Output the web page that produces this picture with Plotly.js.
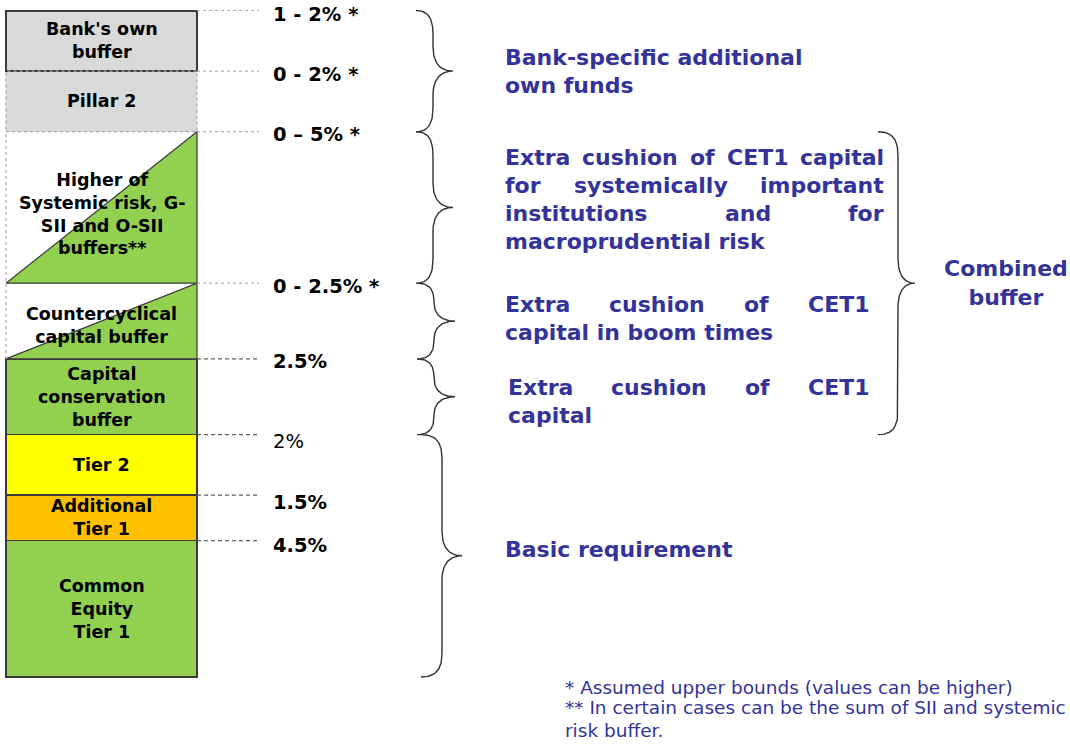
<!DOCTYPE html>
<html><head><meta charset="utf-8">
<script src="https://cdn.plot.ly/plotly-3.0.1.min.js"></script>
<style>html,body{margin:0;padding:0;background:#fff;overflow:hidden;}#chart{width:1070px;height:747px;}</style>
</head><body><div id="chart"></div>
<script>
// ---------------- DATA (column segments, bottom to top) ----------------
const segments = ["Common Equity Tier 1", "Additional Tier 1", "Tier 2", "Capital conservation buffer",
  "Countercyclical capital buffer", "Higher of Systemic risk, G-SII and O-SII buffers**", "Pillar 2", "Bank's own buffer"];
const segmentLabels = ["Common<br>Equity<br>Tier 1", "Additional<br>Tier 1", "Tier 2", "Capital<br>conservation<br>buffer",
  "Countercyclical<br>capital buffer", "Higher of<br>Systemic risk, G-<br>SII and O-SII<br>buffers**", "Pillar 2", "Bank's own<br>buffer"];
const segmentValues = [4.5, 1.5, 2, 2.5, 2.5, 5, 2, 2];
const rateLabels = ["4.5%", "1.5%", "2%", "2.5%", "0 - 2.5% *", "0 – 5% *", "0 - 2% *", "1 - 2% *"];

const descBankSpecific = ["Bank-specific additional", "own funds"];
const descSystemic = ["Extra cushion of CET1 capital", "for systemically important", "institutions and for", "macroprudential risk"];
const descCountercyclical = ["Extra cushion of CET1", "capital in boom times"];
const descConservation = ["Extra cushion of CET1", "capital"];
const descBasic = ["Basic requirement"];
const descCombined = ["Combined", "buffer"];
const footnotes = ["* Assumed upper bounds (values can be higher)",
  "** In certain cases can be the sum of SII and systemic", "risk buffer."];

// ---------------- STYLE ----------------
const segFill = ['#92d050', '#ffc000', '#ffff00', '#92d050', '#ffffff', '#ffffff', '#d9d9d9', '#d9d9d9'];
const segLineW = [1.5, 1.5, 1.5, 1.5, 0, 0, 0, 2];
const FONT = 'DejaVu Sans';
const BLUE = '#333399';
const colX = 101.5, colW = 191, colL = colX - colW / 2, colR = colX + colW / 2;

// cumulative bounds
const bottoms = [], tops = [];
let acc = 0;
segmentValues.forEach(v => { bottoms.push(acc); acc += v; tops.push(acc); });

const traces = [];
segmentValues.forEach((v, i) => {
  traces.push({
    type: 'bar', x: [colX], y: [v], width: [colW], name: segments[i],
    marker: { color: segFill[i], line: { color: '#3a3a3a', width: segLineW[i] } },
    hoverinfo: 'skip'
  });
});

// triangles inside white segments (4, 5)
[4, 5].forEach(i => {
  traces.push({
    type: 'scatter', mode: 'lines', fill: 'toself', fillcolor: '#92d050',
    x: [colL, colR, colR, colL], y: [bottoms[i], bottoms[i], tops[i], bottoms[i]],
    line: { color: '#3a3a3a', width: 1.2 }, hoverinfo: 'skip'
  });
});
// dotted outlines (Pillar 2 box and left edge of buffers)
traces.push({
  type: 'scatter', mode: 'lines',
  x: [colL, colR, colR, colL, colL, null, colL, colL],
  y: [bottoms[6], bottoms[6], tops[6], tops[6], bottoms[6], null, bottoms[4], tops[5]],
  line: { color: '#a8a8a8', width: 1.2, dash: 'dot' }, hoverinfo: 'skip'
});

// connector lines
const lightX = [], lightY = [], darkX = [], darkY = [];
tops.forEach((t, i) => {
  if (i >= 4) { lightX.push(colR, 259, null); lightY.push(t, t, null); }
  else { darkX.push(colR, 259, null); darkY.push(t, t, null); }
});
traces.push({ type: 'scatter', mode: 'lines', x: lightX, y: lightY, line: { color: '#b0b0b0', width: 1.2, dash: 'dot' }, hoverinfo: 'skip' });
traces.push({ type: 'scatter', mode: 'lines', x: darkX, y: darkY, line: { color: '#606060', width: 1.2, dash: '4px,3px' }, hoverinfo: 'skip' });

// braces
function cubic(p0, p1, p2, p3, n, outX, outY) {
  for (let k = 0; k <= n; k++) {
    const t = k / n, u = 1 - t;
    outX.push(u*u*u*p0[0] + 3*u*u*t*p1[0] + 3*u*t*t*p2[0] + t*t*t*p3[0]);
    outY.push(u*u*u*p0[1] + 3*u*u*t*p1[1] + 3*u*t*t*p2[1] + t*t*t*p3[1]);
  }
}
function brace(x0, xs, xp, yT, yB) {
  const r = Math.min(0.8, (yT - yB) / 4), ym = (yT + yB) / 2;
  const X = [], Y = [];
  cubic([x0, yT], [x0 + (xs - x0) * 0.75, yT], [xs, yT - r * 0.35], [xs, yT - r], 20, X, Y);
  cubic([xs, ym + r], [xs, ym + r * 0.35], [xs + (xp - xs) * 0.35, ym], [xp, ym], 20, X, Y);
  cubic([xp, ym], [xs + (xp - xs) * 0.35, ym], [xs, ym - r * 0.35], [xs, ym - r], 20, X, Y);
  cubic([xs, yB + r], [xs, yB + r * 0.35], [x0 + (xs - x0) * 0.75, yB], [x0, yB], 20, X, Y);
  return { type: 'scatter', mode: 'lines', x: X, y: Y, line: { color: '#333333', width: 1.4 }, hoverinfo: 'skip' };
}
traces.push(brace(416, 433, 453, tops[7], bottoms[6]));
traces.push(brace(416, 433, 453, tops[5], bottoms[5]));
traces.push(brace(417, 434, 455, tops[4], bottoms[4]));
traces.push(brace(417, 434, 455, tops[3], bottoms[3]));
traces.push(brace(421, 442, 462, tops[2], bottoms[0]));
traces.push(brace(878, 898, 915, tops[5], bottoms[3]));

// ---------------- ANNOTATIONS ----------------
const annotations = [];
const segShift = [0, 0, 0, 0, -4, -7, 0, 0];
segmentLabels.forEach((t, i) => {
  annotations.push({ text: '<b>' + t + '</b>', x: colX, y: (bottoms[i] + tops[i]) / 2, xref: 'x', yref: 'y',
    showarrow: false, xanchor: 'center', yanchor: 'middle', yshift: segShift[i], align: 'center',
    font: { family: FONT, size: 17.5, color: '#000' } });
});
const rateShift = [-5, -7, -7, -3, -3, -3, -3, -4];
rateLabels.forEach((t, i) => {
  annotations.push({ text: (i === 2 ? t : '<b>' + t + '</b>'), x: 271, y: tops[i], xref: 'x', yref: 'y',
    showarrow: false, xanchor: 'left', yanchor: 'middle', yshift: rateShift[i],
    font: { family: FONT, size: 19.5, color: '#000' } });
});

const ctx = document.createElement('canvas').getContext('2d');
const DSIZE = 22, LINEH = 28;
function measure(s) { ctx.font = 'bold ' + DSIZE + 'px "' + FONT + '"'; return ctx.measureText(s).width; }
function block(lines, yMid, shift, left, right) {
  const n = lines.length;
  lines.forEach((line, k) => {
    const ys = shift + ((n - 1) / 2 - k) * LINEH;
    const words = line.split(' ');
    const justify = right && k < n - 1 && words.length > 1;
    if (!justify) {
      annotations.push({ text: '<b>' + line + '</b>', x: left, y: yMid, xref: 'x', yref: 'y', showarrow: false,
        xanchor: 'left', yanchor: 'middle', yshift: ys, font: { family: FONT, size: DSIZE, color: BLUE } });
    } else {
      const ws = words.map(measure);
      const sum = ws.reduce((a, b) => a + b, 0);
      const gap = (right - left - sum) / (words.length - 1);
      let x = left;
      words.forEach((w, j) => {
        annotations.push({ text: '<b>' + w + '</b>', x: x, y: yMid, xref: 'x', yref: 'y', showarrow: false,
          xanchor: 'left', yanchor: 'middle', yshift: ys, font: { family: FONT, size: DSIZE, color: BLUE } });
        x += ws[j] + gap;
      });
    }
  });
}
block(descBankSpecific, (tops[7] + bottoms[6]) / 2, 0, 503, null);
block(descSystemic, (tops[5] + bottoms[5]) / 2, 8, 503, 882);
block(descCountercyclical, (tops[4] + bottoms[4]) / 2, 3, 503, 867);
block(descConservation, (tops[3] + bottoms[3]) / 2, -5, 506, 867);
block(descBasic, (tops[2] + bottoms[0]) / 2, 6, 503, null);
annotations.push({ text: '<b>' + descCombined.join('<br>') + '</b>', x: 1006, y: (tops[5] + bottoms[3]) / 2,
  xref: 'x', yref: 'y', showarrow: false, xanchor: 'center', yanchor: 'middle', align: 'center',
  font: { family: FONT, size: DSIZE, color: BLUE } });

const footShift = [-11, -31, -54];
footnotes.forEach((t, i) => {
  annotations.push({ text: t, x: 563, y: 0, xref: 'x', yref: 'y', showarrow: false, xanchor: 'left', yanchor: 'middle',
    yshift: footShift[i], font: { family: FONT, size: 18.5, color: BLUE } });
});

const layout = {
  width: 1070, height: 747, margin: { l: 0, r: 0, t: 0, b: 0 },
  paper_bgcolor: '#ffffff', plot_bgcolor: '#ffffff',
  barmode: 'stack', showlegend: false, hovermode: false,
  xaxis: { range: [0, 1070], visible: false, fixedrange: true },
  yaxis: { range: [-2.311, 22.347], visible: false, fixedrange: true },
  annotations: annotations
};
Plotly.newPlot('chart', traces, layout, { displayModeBar: false, staticPlot: true });
</script>
</body></html>
